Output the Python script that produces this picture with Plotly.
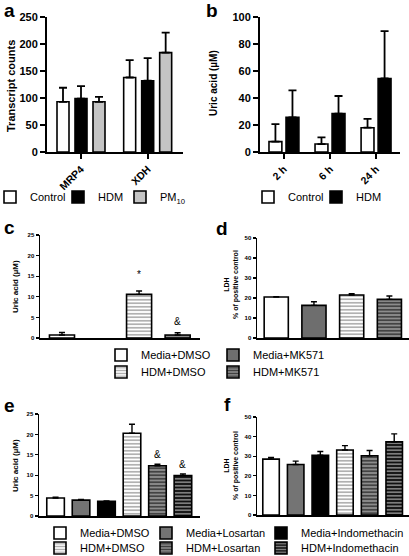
import plotly.graph_objects as go

W, H = 409, 556
FONT = "Arial, Liberation Sans, sans-serif"

def fx(x):
    return x / W

def fy(y):
    return 1 - y / H

# ---------------- data ----------------
a_genes = ["MRP4", "XDH"]
a_control = [93, 138]
a_control_err = [26, 32]
a_hdm = [99, 132]
a_hdm_err = [23, 42]
a_pm10 = [93, 184]
a_pm10_err = [9, 37]

b_times = ["2 h", "6 h", "24 h"]
b_control = [7.7, 5.9, 18.0]
b_control_err = [13, 5, 6.5]
b_hdm = [25.7, 28.5, 54.5]
b_hdm_err = [20, 13, 35]

cd_groups = ["Media+DMSO", "Media+MK571", "HDM+DMSO", "HDM+MK571"]
c_uric = [0.73, None, 10.6, 0.73]
c_uric_err = [0.6, None, 0.8, 0.55]
c_marks = ["", "", "*", "&"]
c_mark_y = [None, None, 15.3, 4.1]
d_ldh = [20.5, 16.3, 21.5, 19.3]
d_ldh_err = [0.2, 1.8, 0.6, 1.7]

ef_groups = ["Media+DMSO", "Media+Losartan", "Media+Indomethacin",
             "HDM+DMSO", "HDM+Losartan", "HDM+Indomethacin"]
e_uric = [4.4, 3.9, 3.6, 20.3, 12.3, 9.9]
e_uric_err = [0.2, 0.15, 0.1, 2.2, 0.4, 0.4]
e_marks = ["", "", "", "*", "&", "&"]
e_mark_y = [None, None, None, 26.4, 15.0, 12.7]
f_ldh = [28.5, 25.8, 30.5, 33.2, 30.2, 37.3]
f_ldh_err = [0.8, 1.7, 1.9, 2.2, 2.7, 4.1]

# ---------------- styles ----------------
def solid(c):
    return dict(color=c, line=dict(color="black", width=1.6))

def striped(bg, fg):
    return dict(color=bg, line=dict(color="black", width=1.6),
                pattern=dict(shape="-", bgcolor=bg, fgcolor=fg, size=3.5,
                             solidity=0.45, fillmode="replace"))

STY = {
    "Control": solid("white"),
    "HDM": solid("black"),
    "PM": solid("#c4c4c4"),
    "Media+DMSO": solid("white"),
    "Media+MK571": solid("#6e6e6e"),
    "Media+Losartan": solid("#747474"),
    "Media+Indomethacin": solid("black"),
    "HDM+DMSO": striped("white", "#a8a8a8"),
    "HDM+MK571": striped("#8c8c8c", "#3a3a3a"),
    "HDM+Losartan": striped("#8c8c8c", "#3a3a3a"),
    "HDM+Indomethacin": striped("#111111", "#8a8a8a"),
}

fig = go.Figure()
legends = {}
leg_count = [0]

def new_legend(x, y, size):
    leg_count[0] += 1
    key = "legend" if leg_count[0] == 1 else f"legend{leg_count[0]}"
    legends[key] = dict(x=fx(x), y=fy(y), xanchor="left", yanchor="middle",
                        orientation="h", bgcolor="rgba(0,0,0,0)", borderwidth=0,
                        font=dict(family=FONT, size=size, color="black"),
                        itemclick=False, tracegroupgap=0)
    return key

def err(arr, th=1.6, w=3):
    return dict(type="data", array=arr, arrayminus=[0] * len(arr), symmetric=False,
                color="black", thickness=th, width=w)

# panel a
a_series = [("Control", "Control", a_control, a_control_err, -0.27, (-10, 197)),
            ("HDM", "HDM", a_hdm, a_hdm_err, 0.0, (58, 197)),
            ("PM<sub>10</sub>", "PM", a_pm10, a_pm10_err, 0.27, (120, 197))]
for name, sk, vals, e, off, lpos in a_series:
    fig.add_trace(go.Bar(x=a_genes, y=vals, name=name, marker=STY[sk], error_y=err(e, 1.8, 4),
                         width=0.18, offset=off - 0.09, xaxis="x", yaxis="y",
                         legend=new_legend(lpos[0], lpos[1], 11)))

# panel b
b_series = [("Control", b_control, b_control_err, -0.185, (248, 197)),
            ("HDM", b_hdm, b_hdm_err, 0.185, (316, 197))]
for name, vals, e, off, lpos in b_series:
    fig.add_trace(go.Bar(x=b_times, y=vals, name=name, marker=STY[name], error_y=err(e, 1.8, 4),
                         width=0.28, offset=off - 0.14, xaxis="x2", yaxis="y2",
                         legend=new_legend(lpos[0], lpos[1], 11)))

# panel c / d
cd_leg = {"Media+DMSO": (101, 355), "Media+MK571": (213, 355),
          "HDM+DMSO": (101, 372), "HDM+MK571": (213, 372)}
for i, g in enumerate(cd_groups):
    fig.add_trace(go.Bar(x=[g], y=[c_uric[i]], name=g, marker=STY[g],
                         error_y=err([c_uric_err[i] or 0], 1.4, 3), width=0.65,
                         xaxis="x3", yaxis="y3", showlegend=False))
for i, g in enumerate(cd_groups):
    fig.add_trace(go.Bar(x=[g], y=[d_ldh[i]], name=g, marker=STY[g],
                         error_y=err([d_ldh_err[i]], 1.4, 3), width=0.64,
                         xaxis="x4", yaxis="y4",
                         legend=new_legend(cd_leg[g][0], cd_leg[g][1], 11)))

# panel e / f
ef_leg = {"Media+DMSO": (40, 533), "Media+Losartan": (146, 533), "Media+Indomethacin": (261, 533),
          "HDM+DMSO": (40, 548), "HDM+Losartan": (146, 548), "HDM+Indomethacin": (261, 548)}
for i, g in enumerate(ef_groups):
    fig.add_trace(go.Bar(x=[g], y=[e_uric[i]], name=g, marker=STY[g],
                         error_y=err([e_uric_err[i]], 1.4, 3), width=0.69,
                         xaxis="x5", yaxis="y5",
                         legend=new_legend(ef_leg[g][0], ef_leg[g][1], 11)))
for i, g in enumerate(ef_groups):
    fig.add_trace(go.Bar(x=[g], y=[f_ldh[i]], name=g, marker=STY[g],
                         error_y=err([f_ldh_err[i]], 1.4, 3), width=0.67,
                         xaxis="x6", yaxis="y6", showlegend=False))

# ---------------- axes ----------------
def xax(x0, x1, rng, cats=None, big=True):
    d = dict(domain=[fx(x0), fx(x1)], range=rng, showline=True, linecolor="black",
             linewidth=2 if big else 1.5, showgrid=False, zeroline=False, fixedrange=True,
             automargin=False)
    if cats is not None:
        d.update(type="category", categoryorder="array", categoryarray=cats)
    if big:
        d.update(ticks="outside", ticklen=5, tickwidth=2, tickcolor="black", tickangle=-45,
                 tickfont=dict(family=FONT, size=10.5, color="black", weight="bold"))
    else:
        d.update(ticks="", showticklabels=False)
    return d

def yax(y0, y1, rng, dtick, anchor, big=True):
    return dict(domain=[fy(y1), fy(y0)], range=rng, dtick=dtick, tick0=0, anchor=anchor,
                showline=True, linecolor="black", linewidth=2 if big else 1.5,
                ticks="outside", ticklen=5 if big else 3, tickwidth=2 if big else 1.3,
                tickcolor="black", showgrid=False, zeroline=False, fixedrange=True,
                automargin=False,
                tickfont=dict(family=FONT, size=11 if big else 6, color="black", weight="bold"))

layout = dict(
    width=W, height=H, autosize=False,
    margin=dict(l=0, r=0, t=0, b=0, pad=0, autoexpand=False),
    paper_bgcolor="white", plot_bgcolor="white", barmode="overlay",
    showlegend=True, font=dict(family=FONT, color="black"),
    xaxis=xax(47, 183, [-0.51, 1.53], a_genes),
    yaxis=yax(17, 152, [0, 250], 50, "x"),
    xaxis2=xax(260, 400, [-0.52, 2.52], b_times),
    yaxis2=yax(17, 152, [0, 100], 20, "x2"),
    xaxis3=xax(40, 200, [-0.57, 3.58], cd_groups, big=False),
    yaxis3=yax(235, 338, [0, 25], 5, "x3", big=False),
    xaxis4=xax(257, 409, [-0.51, 3.52], cd_groups, big=False),
    yaxis4=yax(238, 338, [0, 50], 10, "x4", big=False),
    xaxis5=xax(39, 200, [-0.65, 5.67], ef_groups, big=False),
    yaxis5=yax(414, 516, [0, 25], 5, "x5", big=False),
    xaxis6=xax(257, 409, [-0.57, 5.6], ef_groups, big=False),
    yaxis6=yax(417, 515, [0, 50], 10, "x6", big=False),
)
for k, v in layout.items():
    if k.startswith("xaxis"):
        n = k[5:]
        v["anchor"] = "y" + n
layout.update(legends)
fig.update_layout(**layout)

ann = []
def letter(t, x, y):
    ann.append(dict(text=t, x=fx(x), y=fy(y), xref="paper", yref="paper", showarrow=False,
                    xanchor="left", yanchor="middle",
                    font=dict(family=FONT, size=19, color="black", weight="bold")))

letter("a", 2, 10)
letter("b", 204, 10)
letter("c", 2, 227)
letter("d", 214, 228)
letter("e", 2, 405)
letter("f", 222, 404)

def ytitle(t, x, y, size, bold=True):
    ann.append(dict(text=t, x=fx(x), y=fy(y), xref="paper", yref="paper", showarrow=False,
                    textangle=-90, xanchor="center", yanchor="middle",
                    font=dict(family=FONT, size=size, color="black",
                              weight="bold" if bold else "normal")))

ytitle("Transcript counts", 11, 86, 11)
ytitle("Uric acid (µM)", 214, 83, 10)
ytitle("Uric acid (µM)", 15, 287, 8)
ytitle("LDH<br>% of positive control", 231, 285, 7)
ytitle("Uric acid (µM)", 15, 466, 8)
ytitle("LDH<br>% of positive control", 231, 466, 7)

for i, g in enumerate(cd_groups):
    if c_marks[i]:
        ann.append(dict(text=c_marks[i], x=g, y=c_mark_y[i], xref="x3", yref="y3",
                        showarrow=False, font=dict(family=FONT, size=10, color="black")))
for i, g in enumerate(ef_groups):
    if e_marks[i]:
        ann.append(dict(text=e_marks[i], x=g, y=e_mark_y[i], xref="x5", yref="y5",
                        showarrow=False, font=dict(family=FONT, size=10, color="black")))

fig.update_layout(annotations=ann)
fig.write_html("out.html", config={"displayModeBar": False, "staticPlot": True},
               post_script="document.body.style.margin='0';document.body.style.padding='0';"
                           "document.body.style.overflow='hidden';")
